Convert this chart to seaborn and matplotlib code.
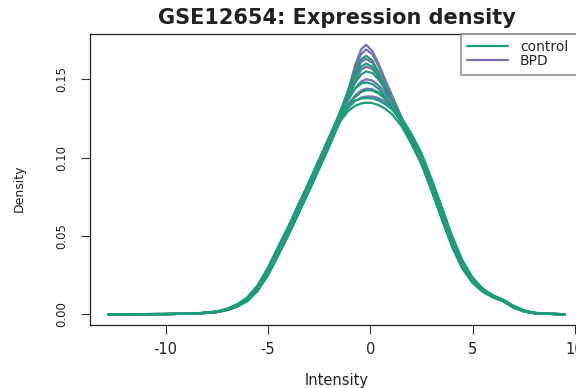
import matplotlib
matplotlib.use('Agg')

import matplotlib.pyplot as plt
import seaborn as sns
import pandas as pd
from matplotlib.lines import Line2D

# --- dados: grade de intensidade e densidades ---
intensity = [-12.8, -10, -8.5, -7.5, -7, -6.5, -6, -5.5, -5, -4.5, -4, -3.5, -3, -2.5, -2,
             -1.5, -1.1, -0.75, -0.45, -0.2, 0.1, 0.4, 0.75, 1.1, 1.5, 2,
             2.5, 3, 3.5, 4, 4.5, 5, 5.5, 6, 6.5, 7, 7.5, 8, 8.5, 9.5]

bpd_1 = [0, 0.0001, 0.0004, 0.0014, 0.0028, 0.0052, 0.0090, 0.0157, 0.0259, 0.0387, 0.0517, 0.0656, 0.0796, 0.0941, 0.1086,
         0.1255, 0.1420, 0.1585, 0.1690, 0.1720, 0.1680, 0.1600, 0.1490, 0.1385, 0.1265, 0.1115,
         0.0977, 0.0806, 0.0626, 0.0447, 0.0305, 0.0209, 0.0148, 0.0111, 0.0085, 0.0045, 0.0019, 0.0007, 0.0003, 0]
bpd_2 = [0, 0.0001, 0.0003, 0.0013, 0.0027, 0.0049, 0.0086, 0.0151, 0.0252, 0.0379, 0.0508, 0.0648, 0.0788, 0.0932, 0.1077,
         0.1245, 0.1405, 0.1560, 0.1660, 0.1690, 0.1660, 0.1585, 0.1480, 0.1380, 0.1262, 0.1118,
         0.0983, 0.0813, 0.0633, 0.0453, 0.0310, 0.0212, 0.0150, 0.0112, 0.0086, 0.0046, 0.0020, 0.0008, 0.0003, 0]
bpd_7 = [0, 0.0001, 0.0004, 0.0014, 0.0029, 0.0053, 0.0092, 0.0160, 0.0263, 0.0392, 0.0522, 0.0662, 0.0802, 0.0946, 0.1091,
         0.1250, 0.1395, 0.1525, 0.1610, 0.1630, 0.1605, 0.1545, 0.1455, 0.1365, 0.1258, 0.1125,
         0.0990, 0.0820, 0.0640, 0.0460, 0.0315, 0.0215, 0.0152, 0.0113, 0.0087, 0.0047, 0.0021, 0.0008, 0.0003, 0]
bpd_3 = [0, 0.0001, 0.0004, 0.0014, 0.0028, 0.0051, 0.0088, 0.0155, 0.0256, 0.0384, 0.0514, 0.0653, 0.0793, 0.0938, 0.1083,
         0.1245, 0.1375, 0.1490, 0.1560, 0.1580, 0.1565, 0.1515, 0.1435, 0.1355, 0.1252, 0.1130,
         0.0974, 0.0803, 0.0622, 0.0444, 0.0303, 0.0207, 0.0147, 0.0110, 0.0085, 0.0044, 0.0019, 0.0007, 0.0003, 0]
bpd_4 = [0, 0.0001, 0.0004, 0.0015, 0.0030, 0.0055, 0.0095, 0.0165, 0.0270, 0.0400, 0.0530, 0.0670, 0.0810, 0.0955, 0.1100,
         0.1250, 0.1360, 0.1440, 0.1485, 0.1500, 0.1492, 0.1462, 0.1408, 0.1345, 0.1255, 0.1140,
         0.0997, 0.0827, 0.0647, 0.0467, 0.0320, 0.0218, 0.0154, 0.0114, 0.0088, 0.0048, 0.0022, 0.0008, 0.0003, 0]
bpd_5 = [0, 0.0001, 0.0004, 0.0015, 0.0029, 0.0054, 0.0093, 0.0162, 0.0265, 0.0395, 0.0525, 0.0664, 0.0804, 0.0949, 0.1094,
         0.1245, 0.1335, 0.1395, 0.1428, 0.1440, 0.1436, 0.1415, 0.1372, 0.1318, 0.1235, 0.1115,
         0.0980, 0.0810, 0.0629, 0.0450, 0.0308, 0.0210, 0.0149, 0.0111, 0.0086, 0.0045, 0.0020, 0.0007, 0.0003, 0]
bpd_6 = [0, 0.0001, 0.0004, 0.0015, 0.0031, 0.0056, 0.0097, 0.0168, 0.0275, 0.0405, 0.0535, 0.0676, 0.0816, 0.0961, 0.1106,
         0.1240, 0.1315, 0.1360, 0.1382, 0.1390, 0.1390, 0.1380, 0.1355, 0.1318, 0.1250, 0.1140,
         0.0990, 0.0820, 0.0640, 0.0460, 0.0315, 0.0215, 0.0152, 0.0113, 0.0087, 0.0047, 0.0021, 0.0008, 0.0003, 0]

ctrl_1 = [0, 0.0001, 0.0004, 0.0016, 0.0032, 0.0058, 0.0099, 0.0172, 0.0279, 0.0410, 0.0541, 0.0681, 0.0821, 0.0967, 0.1112,
          0.1270, 0.1420, 0.1545, 0.1625, 0.1650, 0.1620, 0.1545, 0.1445, 0.1345, 0.1228, 0.1095,
          0.0964, 0.0792, 0.0611, 0.0434, 0.0295, 0.0202, 0.0144, 0.0108, 0.0083, 0.0042, 0.0018, 0.0006, 0.0003, 0]
ctrl_7 = [0, 0.0001, 0.0005, 0.0017, 0.0034, 0.0062, 0.0106, 0.0182, 0.0293, 0.0426, 0.0557, 0.0698, 0.0838, 0.0984, 0.1129,
          0.1285, 0.1420, 0.1520, 0.1580, 0.1600, 0.1580, 0.1525, 0.1440, 0.1355, 0.1250, 0.1125,
          0.1003, 0.0834, 0.0654, 0.0473, 0.0325, 0.0221, 0.0156, 0.0115, 0.0089, 0.0049, 0.0023, 0.0009, 0.0003, 0]
ctrl_2 = [0, 0.0001, 0.0004, 0.0016, 0.0032, 0.0059, 0.0102, 0.0175, 0.0284, 0.0416, 0.0546, 0.0687, 0.0827, 0.0972, 0.1117,
          0.1265, 0.1385, 0.1475, 0.1530, 0.1550, 0.1540, 0.1500, 0.1430, 0.1355, 0.1255, 0.1135,
          0.1016, 0.0848, 0.0669, 0.0486, 0.0335, 0.0228, 0.0160, 0.0118, 0.0091, 0.0052, 0.0024, 0.0010, 0.0003, 0]
ctrl_3 = [0, 0.0002, 0.0005, 0.0017, 0.0035, 0.0063, 0.0108, 0.0185, 0.0298, 0.0431, 0.0562, 0.0704, 0.0844, 0.0990, 0.1135,
          0.1275, 0.1375, 0.1440, 0.1472, 0.1480, 0.1470, 0.1440, 0.1385, 0.1320, 0.1225, 0.1100,
          0.0970, 0.0799, 0.0618, 0.0440, 0.0300, 0.0205, 0.0146, 0.0109, 0.0084, 0.0043, 0.0019, 0.0007, 0.0003, 0]
ctrl_4 = [0, 0.0001, 0.0003, 0.0013, 0.0026, 0.0048, 0.0084, 0.0148, 0.0247, 0.0374, 0.0503, 0.0642, 0.0782, 0.0926, 0.1071,
          0.1225, 0.1320, 0.1385, 0.1418, 0.1430, 0.1428, 0.1410, 0.1375, 0.1330, 0.1260, 0.1155,
          0.1030, 0.0862, 0.0683, 0.0500, 0.0345, 0.0234, 0.0164, 0.0120, 0.0093, 0.0054, 0.0026, 0.0010, 0.0004, 0]
ctrl_5 = [0, 0.0001, 0.0005, 0.0017, 0.0033, 0.0061, 0.0104, 0.0179, 0.0288, 0.0421, 0.0552, 0.0692, 0.0832, 0.0978, 0.1123,
          0.1265, 0.1328, 0.1362, 0.1377, 0.1380, 0.1378, 0.1365, 0.1340, 0.1302, 0.1235, 0.1130,
          0.0997, 0.0827, 0.0647, 0.0467, 0.0320, 0.0218, 0.0154, 0.0114, 0.0088, 0.0048, 0.0022, 0.0008, 0.0003, 0]
ctrl_6 = [0, 0.0001, 0.0004, 0.0014, 0.0028, 0.0051, 0.0088, 0.0155, 0.0256, 0.0384, 0.0514, 0.0653, 0.0793, 0.0938, 0.1083,
          0.1225, 0.1295, 0.1330, 0.1345, 0.1350, 0.1348, 0.1335, 0.1310, 0.1272, 0.1205, 0.1090,
          0.0957, 0.0785, 0.0604, 0.0427, 0.0290, 0.0199, 0.0142, 0.0107, 0.0082, 0.0041, 0.0017, 0.0006, 0.0002, 0]

groups = ['control', 'BPD']
cores = {'control': '#1b9e77', 'BPD': '#7570b3'}

# ordem de desenho (misturada, como no grafico original)
amostras = [('BPD', bpd_1), ('BPD', bpd_2), ('BPD', bpd_7), ('control', ctrl_1), ('BPD', bpd_3),
            ('control', ctrl_7), ('BPD', bpd_4), ('control', ctrl_2), ('BPD', bpd_5),
            ('control', ctrl_3), ('BPD', bpd_6), ('control', ctrl_4), ('control', ctrl_5), ('control', ctrl_6)]

sns.set_style('ticks')
plt.rcParams['font.family'] = ['DejaVu Sans']

fig = plt.figure(figsize=(5.76, 3.88), dpi=100)
ax = fig.add_axes([90 / 576, 63 / 388, 493 / 576, 291 / 388])

for grupo, dens in amostras:
    df = pd.DataFrame({'intensity': intensity, 'density': dens})
    sns.lineplot(data=df, x='intensity', y='density', color=cores[grupo],
                 lw=1.6, sort=False, estimator=None, ax=ax)

# limites no estilo R (4% de margem)
xmin, xmax = min(intensity), max(intensity)
ymax = max(max(d) for _, d in amostras)
ax.set_xlim(xmin - 0.04 * (xmax - xmin), xmax + 0.04 * (xmax - xmin))
ax.set_ylim(-0.04 * ymax, ymax * 1.04)

ax.set_xticks([-10, -5, 0, 5, 10])
ax.set_xticklabels(['-10', '-5', '0', '5', '10'])
ax.set_yticks([0, 0.05, 0.10, 0.15])
ax.set_yticklabels(['0.00', '0.05', '0.10', '0.15'], rotation=90, va='center')
ax.tick_params(axis='both', direction='out', length=6.5, width=0.8,
               color='#333333', labelcolor='#222222')
ax.tick_params(axis='x', pad=6, labelsize=10.5)
ax.tick_params(axis='y', pad=9, labelsize=8.5)
for s in ax.spines.values():
    s.set_color('#222222')
    s.set_linewidth(0.9)

ax.set_xlabel('')
ax.set_ylabel('')
fig.text(337 / 576, 1 - 380 / 388, 'Intensity', ha='center', va='center', fontsize=10.5, color='#222222')
fig.text(19 / 576, 1 - 188 / 388, 'Density', ha='center', va='center', rotation=90, fontsize=9, color='#222222')
fig.text(337 / 576, 1 - 18 / 388, 'GSE12654: Expression density', ha='center', va='center',
         fontsize=15, fontweight='bold', color='#222222')

handles = [Line2D([], [], color=cores[g], lw=1.6) for g in groups]
leg = ax.legend(handles, groups, loc='upper left', bbox_to_anchor=((461 - 90) / 493, 0, (583 - 461) / 493, 1),
                mode='expand', borderaxespad=0, frameon=True, fancybox=False, fontsize=10,
                handlelength=2.9, handletextpad=0.9, labelspacing=0.0, borderpad=0.45)
leg.get_frame().set_edgecolor('#777777')
leg.get_frame().set_linewidth(1.2)

fig.savefig('out.png', dpi=100)
